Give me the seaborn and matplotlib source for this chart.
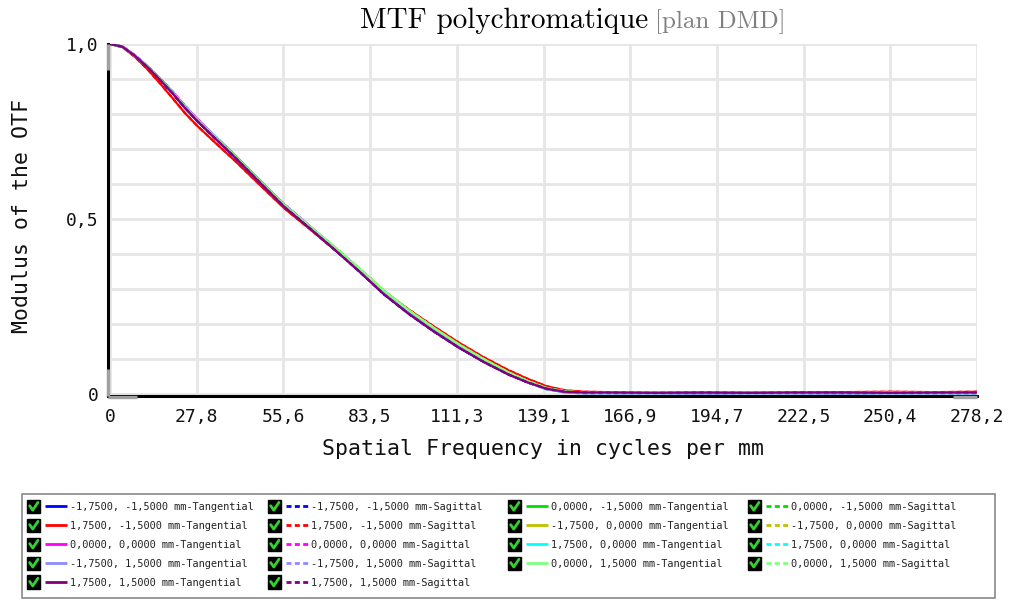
import numpy as np
import pandas as pd
import matplotlib
matplotlib.use("Agg")
import matplotlib.pyplot as plt
import seaborn as sns
from matplotlib.legend_handler import HandlerBase
from matplotlib.lines import Line2D
from matplotlib.patches import Rectangle

# Spatial frequency samples (cycles/mm)
freq = [0, 4, 8, 12, 16, 20, 24, 28, 34, 40, 48, 56, 64, 72, 80, 88, 96, 104,
        112, 120, 128, 134, 140, 146, 152, 160, 175, 190, 205, 220, 235, 250,
        265, 278.2]

# MTF curves (modulus of the OTF) for groups of field points
mtf_purple = [1.000, 0.992, 0.966, 0.934, 0.898, 0.860, 0.818, 0.780, 0.728,
              0.677, 0.605, 0.534, 0.474, 0.413, 0.350, 0.284, 0.228, 0.178,
              0.132, 0.091, 0.055, 0.033, 0.015, 0.006, 0.004, 0.004, 0.003,
              0.004, 0.003, 0.004, 0.004, 0.003, 0.004, 0.004]
mtf_red = [1.000, 0.991, 0.963, 0.928, 0.888, 0.846, 0.803, 0.766, 0.716,
           0.667, 0.598, 0.530, 0.472, 0.413, 0.353, 0.292, 0.240, 0.192,
           0.146, 0.104, 0.067, 0.043, 0.022, 0.010, 0.006, 0.005, 0.004,
           0.004, 0.004, 0.005, 0.005, 0.006, 0.005, 0.006]
mtf_cyan = [1.000, 0.992, 0.967, 0.936, 0.901, 0.863, 0.822, 0.784, 0.733,
            0.682, 0.610, 0.540, 0.479, 0.419, 0.356, 0.290, 0.233, 0.184,
            0.136, 0.095, 0.058, 0.034, 0.014, 0.004, 0.002, 0.002, 0.002,
            0.001, 0.002, 0.002, 0.001, 0.002, 0.002, 0.002]
mtf_green = [1.000, 0.992, 0.966, 0.935, 0.900, 0.862, 0.821, 0.783, 0.732,
             0.681, 0.609, 0.539, 0.479, 0.420, 0.358, 0.294, 0.238, 0.188,
             0.141, 0.099, 0.061, 0.037, 0.017, 0.007, 0.004, 0.004, 0.004,
             0.005, 0.004, 0.004, 0.003, 0.004, 0.004, 0.003]
mtf_magenta = [1.000, 0.993, 0.968, 0.937, 0.902, 0.865, 0.824, 0.786, 0.734,
               0.683, 0.611, 0.541, 0.480, 0.418, 0.354, 0.288, 0.231, 0.181,
               0.134, 0.093, 0.056, 0.033, 0.014, 0.005, 0.003, 0.003, 0.003,
               0.003, 0.003, 0.003, 0.003, 0.003, 0.003, 0.003]

fields = ["-1,7500, -1,5000", "0,0000, -1,5000", "1,7500, -1,5000",
          "-1,7500, 0,0000", "0,0000, 0,0000", "1,7500, 0,0000",
          "-1,7500, 1,5000", "0,0000, 1,5000", "1,7500, 1,5000"]
field_colors = ["#0000ff", "#00e000", "#ff0000", "#c0c000", "#ff00ff",
                "#00ffff", "#8c8cff", "#80ff80", "#800080"]
field_curves = [mtf_purple, mtf_green, mtf_red, mtf_green, mtf_magenta,
                mtf_cyan, mtf_cyan, mtf_green, mtf_purple]
orientations = ["Tangential", "Sagittal"]

x_tick_labels = ["0", "27,8", "55,6", "83,5", "111,3", "139,1", "166,9",
                 "194,7", "222,5", "250,4", "278,2"]
y_tick_labels = ["0", "0,5", "1,0"]
y_tick_values = [0.0, 0.5, 1.0]

# Long-form table for seaborn
rows = []
order, palette, dashes = [], {}, {}
for f, c, curve in zip(fields, field_colors, field_curves):
    for o in orientations:
        name = f"{f} mm-{o}"
        order.append(name)
        palette[name] = c
        dashes[name] = "" if o == "Tangential" else (2.0, 1.5)
        for fr, v in zip(freq, curve):
            rows.append({"series": name, "freq": fr, "mtf": v})
df = pd.DataFrame(rows)

sns.set_theme(style="whitegrid")
plt.rcParams["font.family"] = ["DejaVu Sans Mono"]

fig = plt.figure(figsize=(10.13, 6.01), dpi=100)
ax_left, ax_right, ax_top, ax_bottom = 108, 977, 44, 396
W, H = 1013, 601
ax = fig.add_axes([ax_left / W, 1 - ax_bottom / H,
                   (ax_right - ax_left) / W, (ax_bottom - ax_top) / H])
ax.set_facecolor("white")

sns.lineplot(data=df, x="freq", y="mtf", hue="series", style="series",
             hue_order=order, style_order=order, palette=palette,
             dashes=dashes, estimator=None, sort=False, legend=False,
             linewidth=1.6, ax=ax)

ax.set_xlim(-0.65, 278.2)
ax.set_ylim(-0.006, 1.0)
x_ticks = np.linspace(0, 278.2, len(x_tick_labels))
ax.set_xticks(x_ticks)
ax.set_xticklabels(x_tick_labels)
ax.set_yticks(y_tick_values)
ax.set_yticklabels(y_tick_labels)
ax.set_yticks(np.arange(0.1, 1.0, 0.1), minor=True)
ax.grid(which="both", color="#e6e6e6", linewidth=2.0)
ax.tick_params(axis="both", which="both", length=0, labelsize=13,
               colors="#111111")
ax.tick_params(axis="x", pad=9)
ax.tick_params(axis="y", pad=7)

for side in ["top", "right"]:
    ax.spines[side].set_visible(False)
for side in ["left", "bottom"]:
    ax.spines[side].set_color("black")
    ax.spines[side].set_linewidth(2.2)

# grey end caps on the axis lines
cap = dict(transform=ax.transAxes, color="#a0a0a0", lw=2.4, clip_on=False,
           solid_capstyle="butt", zorder=5)
ax.plot([0, 0], [0.926, 1.0], **cap)
ax.plot([0, 0], [0.0, 0.077], **cap)
ax.plot([0.0, 0.033], [-0.004, -0.004], **cap)
ax.plot([0.972, 1.0], [-0.004, -0.004], **cap)

ax.set_xlabel("Spatial Frequency in cycles per mm", fontsize=15.5,
              color="#111111", va="center")
ax.xaxis.set_label_coords(0.5, -0.151)
ax.set_ylabel("Modulus of the OTF", fontsize=15.5, color="#111111",
              va="center", ha="center")
ax.yaxis.set_label_coords(-0.099, 0.511)

# Title in two tones
fig.text(648 / W, 1 - 28 / H, "MTF polychromatique", family="cmr10",
         fontsize=21, color="black", ha="right", va="baseline")
fig.text(655 / W, 1 - 28 / H, "[plan DMD]", family="cmr10",
         fontsize=18, color="#808080", ha="left", va="baseline")


class CheckboxLineHandler(HandlerBase):
    """Legend key: a ticked checkbox followed by a line sample."""

    def create_artists(self, legend, orig_handle, xdescent, ydescent,
                       width, height, fontsize, trans):
        s = 1.3 * fontsize
        x0 = -xdescent
        y0 = -ydescent + height / 2 - s / 2
        box = Rectangle((x0, y0), s, s, facecolor="black",
                        edgecolor="black", transform=trans)
        tick = Line2D([x0 + 0.2 * s, x0 + 0.43 * s, x0 + 0.82 * s],
                      [y0 + 0.55 * s, y0 + 0.22 * s, y0 + 0.8 * s],
                      color="#2fd42f", lw=2.0, transform=trans)
        lx0 = x0 + s + 0.45 * fontsize
        sample = Line2D([lx0, x0 + width], [y0 + s / 2] * 2,
                        color=orig_handle.get_color(), lw=2.0,
                        transform=trans, solid_capstyle="butt",
                        dash_capstyle="butt")
        if orig_handle.get_linestyle() != "-":
            sample.set_dashes((1.8, 1.2))
        return [box, tick, sample]


def proxy(name):
    ls = "-" if name.endswith("Tangential") else "--"
    return Line2D([], [], color=palette[name], linestyle=ls)


# Four legend columns, filled column by column
columns = [order[0::4], order[1::4], order[2::4], order[3::4]]
col_x = [27, 268, 508, 748]
for names, cx in zip(columns, col_x):
    fig.legend([proxy(n) for n in names], names,
               handler_map={Line2D: CheckboxLineHandler()},
               loc="upper left", bbox_to_anchor=(cx / W, 1 - 502 / H),
               frameon=False, borderpad=0, borderaxespad=0,
               handlelength=3.9, handletextpad=0.3, labelspacing=0.87,
               prop={"family": "DejaVu Sans Mono", "size": 7.4},
               labelcolor="#222222")

fig.patches.append(Rectangle((22 / W, 1 - 598 / H), (995 - 22) / W,
                             (598 - 494) / H, transform=fig.transFigure,
                             fill=False, edgecolor="#8a8a8a", lw=1.2))

fig.savefig("out.png", dpi=100, facecolor="white")
